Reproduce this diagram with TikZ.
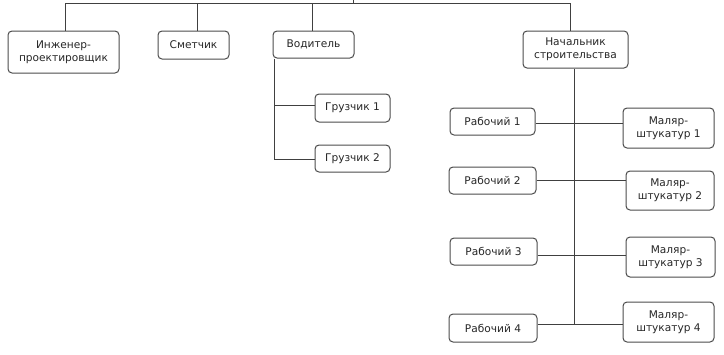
\documentclass[tikz,border=0pt]{standalone}
\usepackage{fontspec}
\setmainfont{DejaVu Sans}
\begin{document}
\begin{tikzpicture}[x=1pt,y=-1pt,
  box/.style={draw=black!70, line width=1pt, rounded corners=4pt, fill=white,
    inner sep=0pt, align=center, text=black!85,
    font=\fontsize{10.6}{13}\selectfont},
  link/.style={draw=black!75, line width=1pt}]
\useasboundingbox (0,0) rectangle (724,354);
% top row
\node[box, minimum width=111, minimum height=42] (ing) at (63.5,52) {Инженер-\\проектировщик};
\node[box, minimum width=71, minimum height=28] (smet) at (193.5,45) {Сметчик};
\node[box, minimum width=81, minimum height=27] (vod) at (313.5,44.5) {Водитель};
\node[box, minimum width=105, minimum height=37] (nach) at (575.5,49.5) {Начальник\\строительства};
% loaders
\node[box, minimum width=75, minimum height=28] (gr1) at (352.5,108) {Грузчик 1};
\node[box, minimum width=75, minimum height=27] (gr2) at (352.5,158.5) {Грузчик 2};
% workers
\node[box, minimum width=85, minimum height=27] (rab1) at (492.5,121.5) {Рабочий 1};
\node[box, minimum width=87, minimum height=27] (rab2) at (492.5,180.5) {Рабочий 2};
\node[box, minimum width=87, minimum height=27] (rab3) at (493.5,251.5) {Рабочий 3};
\node[box, minimum width=88, minimum height=28] (rab4) at (493,328) {Рабочий 4};
\node[box, minimum width=91, minimum height=40] (mal1) at (668.5,128) {Маляр-\\штукатур 1};
\node[box, minimum width=88, minimum height=39] (mal2) at (670,190.5) {Маляр-\\штукатур 2};
\node[box, minimum width=89, minimum height=40] (mal3) at (670.5,257) {Маляр-\\штукатур 3};
\node[box, minimum width=91, minimum height=40] (mal4) at (668.5,322) {Маляр-\\штукатур 4};
% coordinates
\coordinate (top) at (353,0);
\coordinate (bus) at (353,3.5);
\coordinate (j1) at (574,123);
\coordinate (j2) at (574,180);
\coordinate (j3) at (574,255);
\coordinate (j4) at (574,324);
\coordinate (g1) at (274,105);
\coordinate (g2) at (274,159);
% connectors
\draw[link] (top) -- (bus);
\draw[link] ([xshift=1.5]ing.north) -- ([xshift=1.5]ing.north |- bus) -- ([xshift=-5.5]nach.north |- bus) -- ([xshift=-5.5]nach.north);
\draw[link] ([xshift=3.5]smet.north) -- ([xshift=3.5]smet.north |- bus);
\draw[link] ([xshift=-1.5]vod.north) -- ([xshift=-1.5]vod.north |- bus);
\draw[link] (vod.south -| g1) -- (g2) -- (gr2.west |- g2);
\draw[link] (g1) -- (gr1.west |- g1);
\draw[link] (nach.south -| j1) -- (j4);
\draw[link] (rab1.east |- j1) -- (mal1.west |- j1);
\draw[link] (rab2.east |- j2) -- (mal2.west |- j2);
\draw[link] (rab3.east |- j3) -- (mal3.west |- j3);
\draw[link] (rab4.east |- j4) -- (mal4.west |- j4);
\end{tikzpicture}
\end{document}
